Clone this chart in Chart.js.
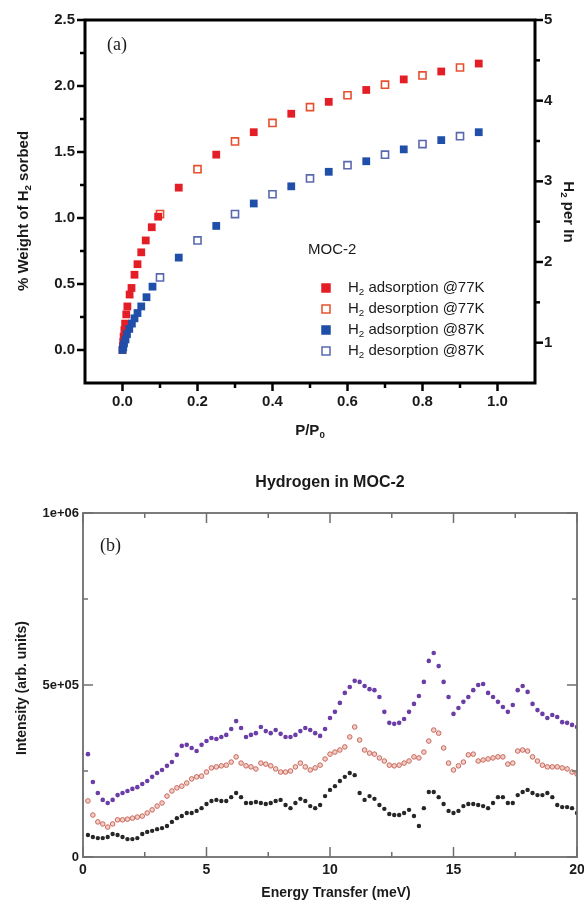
<!DOCTYPE html>
<html>
<head>
<meta charset="utf-8">
<title>Hydrogen in MOC-2</title>
<script src="https://cdn.jsdelivr.net/npm/chart.js"></script>
<style>
  body { margin: 0; background: #fff; }
  canvas { position: absolute; left: 0; }
  #iso { top: 0; }
  #ins { top: 450px; }
</style>
</head>
<body>
<canvas id="iso" width="584" height="450"></canvas>
<canvas id="ins" width="584" height="451"></canvas>
<script>
// (a) sorption isotherms, P/P0 against % weight of H2
const p77ads = [0, 0.001, 0.002, 0.003, 0.005, 0.007, 0.01, 0.013, 0.019, 0.024, 0.032, 0.04, 0.05, 0.062, 0.078, 0.095, 0.15, 0.25, 0.35, 0.45, 0.55, 0.65, 0.75, 0.85, 0.95];
const w77ads = [0, 0.03, 0.06, 0.1, 0.15, 0.2, 0.27, 0.33, 0.42, 0.47, 0.57, 0.65, 0.74, 0.83, 0.93, 1.01, 1.23, 1.48, 1.65, 1.79, 1.88, 1.97, 2.05, 2.11, 2.17];
const p77des = [0.1, 0.2, 0.3, 0.4, 0.5, 0.6, 0.7, 0.8, 0.9];
const w77des = [1.03, 1.37, 1.58, 1.72, 1.84, 1.93, 2.01, 2.08, 2.14];
const p87ads = [0, 0.002, 0.004, 0.008, 0.012, 0.018, 0.025, 0.032, 0.04, 0.05, 0.064, 0.08, 0.15, 0.25, 0.35, 0.45, 0.55, 0.65, 0.75, 0.85, 0.95];
const w87ads = [0, 0.02, 0.05, 0.08, 0.12, 0.16, 0.2, 0.24, 0.28, 0.33, 0.4, 0.48, 0.7, 0.94, 1.11, 1.24, 1.35, 1.43, 1.52, 1.59, 1.65];
const p87des = [0.1, 0.2, 0.3, 0.4, 0.5, 0.6, 0.7, 0.8, 0.9];
const w87des = [0.55, 0.83, 1.03, 1.18, 1.3, 1.4, 1.48, 1.56, 1.62];

const pTicks = [0, 0.2, 0.4, 0.6, 0.8, 1.0];
const pTickLabels = ['0.0', '0.2', '0.4', '0.6', '0.8', '1.0'];
const pMinor = [0.1, 0.3, 0.5, 0.7, 0.9];
const wTicks = [0, 0.5, 1.0, 1.5, 2.0, 2.5];
const wTickLabels = ['0.0', '0.5', '1.0', '1.5', '2.0', '2.5'];
const wMinor = [0.25, 0.75, 1.25, 1.75, 2.25];
const perInTicks = [1, 2, 3, 4, 5];
const perInTickLabels = ['1', '2', '3', '4', '5'];
const perInMinor = [1.5, 2.5, 3.5, 4.5];

// (b) inelastic spectra, energy transfer (meV) against intensity (thousands)
const energy = [0.2, 0.4, 0.6, 0.8, 1.0, 1.2, 1.4, 1.6, 1.8, 2.0,
  2.2, 2.4, 2.6, 2.8, 3.0, 3.2, 3.4, 3.6, 3.8, 4.0,
  4.2, 4.4, 4.6, 4.8, 5.0, 5.2, 5.4, 5.6, 5.8, 6.0,
  6.2, 6.4, 6.6, 6.8, 7.0, 7.2, 7.4, 7.6, 7.8, 8.0,
  8.2, 8.4, 8.6, 8.8, 9.0, 9.2, 9.4, 9.6, 9.8, 10.0,
  10.2, 10.4, 10.6, 10.8, 11.0, 11.2, 11.4, 11.6, 11.8, 12.0,
  12.2, 12.4, 12.6, 12.8, 13.0, 13.2, 13.4, 13.6, 13.8, 14.0,
  14.2, 14.4, 14.6, 14.8, 15.0, 15.2, 15.4, 15.6, 15.8, 16.0,
  16.2, 16.4, 16.6, 16.8, 17.0, 17.2, 17.4, 17.6, 17.8, 18.0,
  18.2, 18.4, 18.6, 18.8, 19.0, 19.2, 19.4, 19.6, 19.8, 20.0];
const intPurple = [299, 218, 186, 166, 157, 166, 180, 186, 192, 198,
  203, 212, 221, 233, 244, 253, 265, 276, 297, 323,
  326, 317, 308, 326, 337, 346, 343, 349, 355, 372,
  395, 375, 349, 355, 360, 378, 366, 360, 369, 358,
  349, 349, 355, 366, 375, 369, 360, 352, 372, 404,
  422, 448, 477, 494, 512, 509, 497, 488, 485, 465,
  422, 390, 387, 390, 401, 422, 445, 468, 509, 570,
  593, 555, 509, 465, 416, 433, 451, 465, 485, 500,
  503, 477, 465, 451, 436, 422, 442, 485, 497, 480,
  445, 427, 416, 404, 413, 407, 392, 390, 384, 378];
const intSalmon = [163, 122, 102, 96, 87, 96, 108, 108, 110, 113,
  116, 119, 128, 137, 148, 157, 177, 192, 201, 206,
  215, 227, 233, 235, 247, 259, 262, 265, 267, 276,
  291, 273, 265, 262, 256, 273, 270, 265, 256, 247,
  247, 250, 262, 273, 262, 253, 259, 267, 285, 299,
  305, 311, 320, 349, 378, 340, 311, 302, 299, 288,
  279, 267, 265, 267, 273, 279, 291, 288, 305, 337,
  369, 360, 317, 273, 253, 265, 276, 297, 299, 279,
  282, 285, 288, 291, 291, 270, 273, 308, 311, 308,
  291, 279, 267, 262, 262, 262, 259, 256, 247, 241];
const intBlack = [64, 58, 55, 55, 58, 67, 64, 58, 52, 52,
  55, 67, 73, 76, 81, 84, 90, 102, 113, 119,
  128, 128, 134, 142, 154, 163, 166, 163, 163, 174,
  186, 174, 157, 157, 160, 157, 154, 157, 163, 166,
  151, 142, 157, 169, 163, 148, 142, 151, 177, 195,
  206, 221, 233, 244, 238, 186, 166, 177, 169, 151,
  140, 125, 122, 122, 128, 137, 119, 90, 142, 189,
  189, 174, 154, 134, 128, 134, 148, 154, 154, 151,
  148, 142, 157, 174, 174, 157, 157, 180, 189, 195,
  186, 180, 180, 186, 174, 151, 145, 145, 142, 128];

const eTicks = [0, 5, 10, 15, 20];
const eTickLabels = ['0', '5', '10', '15', '20'];
const eMinor = [2.5, 7.5, 12.5, 17.5];
const iTicks = [0, 500, 1000];
const iTickLabels = ['0', '5e+05', '1e+06'];
const iMinor = [250, 750];

const FAM = 'Arial, "Liberation Sans", sans-serif';
Chart.defaults.font.family = FAM;

const pts = (xs, ys) => xs.map((x, i) => ({ x: x, y: ys[i] }));

// text with subscripts: segs like [['H'], ['2', 'sub'], [' per In']]
function richText(ctx, x, y, segs, size, weight, align, angle) {
  ctx.save();
  ctx.translate(x, y);
  ctx.rotate(angle || 0);
  let total = 0;
  const parts = segs.map(s => {
    const sub = s[1] === 'sub';
    const sz = sub ? size * 0.65 : size;
    ctx.font = weight + ' ' + sz + 'px ' + FAM;
    const w = ctx.measureText(s[0]).width;
    total += w;
    return { t: s[0], sz: sz, w: w, dy: sub ? size * 0.32 : 0 };
  });
  let cx = align === 'center' ? -total / 2 : 0;
  ctx.textBaseline = 'middle';
  ctx.textAlign = 'left';
  ctx.fillStyle = '#1a1a1a';
  parts.forEach(p => {
    ctx.font = weight + ' ' + p.sz + 'px ' + FAM;
    ctx.fillText(p.t, cx, p.dy);
    cx += p.w;
  });
  ctx.restore();
}

function line(ctx, x1, y1, x2, y2) {
  ctx.beginPath();
  ctx.moveTo(x1, y1);
  ctx.lineTo(x2, y2);
  ctx.stroke();
}

const legendRows = [
  { text: ' adsorption @77K', fill: '#e41e26', stroke: '#e41e26' },
  { text: ' desorption @77K', fill: '#fff', stroke: '#e6502e' },
  { text: ' adsorption @87K', fill: '#1f4fa8', stroke: '#1f4fa8' },
  { text: ' desorption @87K', fill: '#fff', stroke: '#5a68b0' }
];

const isoDecor = {
  id: 'isoDecor',
  afterDraw(chart) {
    const { ctx, chartArea: a, scales } = chart;
    ctx.save();
    ctx.strokeStyle = '#000';
    ctx.lineWidth = 2.5;
    pTicks.forEach(v => { const x = scales.x.getPixelForValue(v); line(ctx, x, a.bottom, x, a.bottom + 8); });
    pMinor.forEach(v => { const x = scales.x.getPixelForValue(v); line(ctx, x, a.bottom, x, a.bottom + 5); });
    wTicks.forEach(v => { const y = scales.y.getPixelForValue(v); line(ctx, a.left, y, a.left - 8, y); });
    wMinor.forEach(v => { const y = scales.y.getPixelForValue(v); line(ctx, a.left, y, a.left - 5, y); });
    perInTicks.forEach(v => { const y = scales.y1.getPixelForValue(v); line(ctx, a.right, y, a.right + 8, y); });
    perInMinor.forEach(v => { const y = scales.y1.getPixelForValue(v); line(ctx, a.right, y, a.right + 5, y); });
    ctx.lineWidth = 3;
    ctx.strokeRect(a.left, a.top, a.right - a.left, a.bottom - a.top);

    richText(ctx, 24, 211, [['% Weight of H'], ['2', 'sub'], [' sorbed']], 15, 'bold', 'center', -Math.PI / 2);
    richText(ctx, 568, 212, [['H'], ['2', 'sub'], [' per In']], 15, 'bold', 'center', Math.PI / 2);
    richText(ctx, 310, 431, [['P/P'], ['0', 'sub']], 15, 'bold', 'center', 0);
    richText(ctx, 308, 250, [['MOC-2']], 15, 'normal', 'left', 0);

    legendRows.forEach((r, i) => {
      const y = 288 + i * 21;
      ctx.fillStyle = r.fill;
      ctx.strokeStyle = r.stroke;
      ctx.lineWidth = 1.5;
      ctx.fillRect(322, y - 4, 8, 8);
      ctx.strokeRect(322, y - 4, 8, 8);
      richText(ctx, 348, y, [['H'], ['2', 'sub'], [r.text]], 15, 'normal', 'left', 0);
    });

    ctx.fillStyle = '#1a1a1a';
    ctx.font = '18px "Liberation Serif", "Times New Roman", serif';
    ctx.textBaseline = 'middle';
    ctx.textAlign = 'left';
    ctx.fillText('(a)', 107, 45);
    ctx.restore();
  }
};

const insDecor = {
  id: 'insDecor',
  afterDraw(chart) {
    const { ctx, chartArea: a, scales } = chart;
    ctx.save();
    ctx.strokeStyle = '#6e6e6e';
    ctx.lineWidth = 1.5;
    eTicks.forEach(v => {
      const x = scales.x.getPixelForValue(v);
      line(ctx, x, a.bottom, x, a.bottom - 10);
      line(ctx, x, a.top, x, a.top + 10);
    });
    eMinor.forEach(v => {
      const x = scales.x.getPixelForValue(v);
      line(ctx, x, a.bottom, x, a.bottom - 5);
      line(ctx, x, a.top, x, a.top + 5);
    });
    iTicks.forEach(v => {
      const y = scales.y.getPixelForValue(v);
      line(ctx, a.left, y, a.left + 10, y);
      line(ctx, a.right, y, a.right - 10, y);
    });
    iMinor.forEach(v => {
      const y = scales.y.getPixelForValue(v);
      line(ctx, a.left, y, a.left + 5, y);
      line(ctx, a.right, y, a.right - 5, y);
    });
    ctx.lineWidth = 1.8;
    ctx.strokeRect(a.left, a.top, a.right - a.left, a.bottom - a.top);

    // energy tick labels, centred on their ticks (the last one runs off the edge)
    eTicks.forEach((v, i) => {
      richText(ctx, scales.x.getPixelForValue(v), a.bottom + 13, [[eTickLabels[i]]], 14, 'bold', 'center', 0);
    });

    const cx = (a.left + a.right) / 2;
    richText(ctx, cx, 33, [['Hydrogen in MOC-2']], 16, 'bold', 'center', 0);
    richText(ctx, 336, 443, [['Energy Transfer (meV)']], 14, 'bold', 'center', 0);
    richText(ctx, 22, 238, [['Intensity (arb. units)']], 14, 'bold', 'center', -Math.PI / 2);

    ctx.fillStyle = '#1a1a1a';
    ctx.font = '18px "Liberation Serif", "Times New Roman", serif';
    ctx.textBaseline = 'middle';
    ctx.textAlign = 'left';
    ctx.fillText('(b)', 100, 96);
    ctx.restore();
  }
};

const tickFont = { size: 15, weight: 'bold' };
const noGrid = { display: false, drawTicks: false };

new Chart(document.getElementById('iso'), {
  type: 'scatter',
  data: {
    datasets: [
      { data: pts(p87ads, w87ads), pointStyle: 'rect', pointRadius: 5.5, backgroundColor: '#1f4fa8', borderColor: '#1f4fa8', borderWidth: 0 },
      { data: pts(p87des, w87des), pointStyle: 'rect', pointRadius: 5, backgroundColor: '#fff', borderColor: '#5a68b0', borderWidth: 1.6 },
      { data: pts(p77ads, w77ads), pointStyle: 'rect', pointRadius: 5.5, backgroundColor: '#e41e26', borderColor: '#e41e26', borderWidth: 0 },
      { data: pts(p77des, w77des), pointStyle: 'rect', pointRadius: 5, backgroundColor: '#fff', borderColor: '#e6502e', borderWidth: 1.6 }
    ]
  },
  options: {
    responsive: false,
    animation: false,
    layout: { padding: { top: 20, left: 0, right: 0, bottom: 0 } },
    plugins: { legend: { display: false }, tooltip: { enabled: false } },
    scales: {
      x: {
        type: 'linear', position: 'bottom', min: -0.1, max: 1.1,
        grid: noGrid, border: { display: false },
        afterBuildTicks: s => { s.ticks = pTicks.map(v => ({ value: v })); },
        afterFit: s => { s.height = 67; },
        ticks: { callback: (v, i) => pTickLabels[i], padding: 10, color: '#1a1a1a', font: tickFont, maxRotation: 0, autoSkip: false }
      },
      y: {
        type: 'linear', position: 'left', min: -0.25, max: 2.5,
        grid: noGrid, border: { display: false },
        afterBuildTicks: s => { s.ticks = wTicks.map(v => ({ value: v })); },
        afterFit: s => { s.width = 85; },
        ticks: { callback: (v, i) => wTickLabels[i], padding: 10, color: '#1a1a1a', font: tickFont, autoSkip: false }
      },
      y1: {
        type: 'linear', position: 'right', min: 0.5, max: 5,
        grid: noGrid, border: { display: false },
        afterBuildTicks: s => { s.ticks = perInTicks.map(v => ({ value: v })); },
        afterFit: s => { s.width = 49; },
        ticks: { callback: (v, i) => perInTickLabels[i], padding: 9, color: '#1a1a1a', font: tickFont, autoSkip: false }
      }
    }
  },
  plugins: [isoDecor]
});

new Chart(document.getElementById('ins'), {
  type: 'scatter',
  data: {
    datasets: [
      { data: pts(energy, intBlack), pointStyle: 'circle', pointRadius: 2.2, backgroundColor: '#262626', borderColor: '#262626', borderWidth: 0 },
      { data: pts(energy, intSalmon), pointStyle: 'circle', pointRadius: 2.3, backgroundColor: '#f2cdc6', borderColor: '#c8685c', borderWidth: 1 },
      { data: pts(energy, intPurple), pointStyle: 'circle', pointRadius: 2.3, backgroundColor: '#6a3ea6', borderColor: '#6a3ea6', borderWidth: 0 }
    ]
  },
  options: {
    responsive: false,
    animation: false,
    layout: { padding: { top: 63, left: 0, right: 7, bottom: 0 } },
    plugins: { legend: { display: false }, tooltip: { enabled: false } },
    scales: {
      x: {
        type: 'linear', position: 'bottom', min: 0, max: 20,
        grid: noGrid, border: { display: false },
        afterFit: s => { s.height = 44; },
        ticks: { display: false }
      },
      y: {
        type: 'linear', position: 'left', min: 0, max: 1000,
        grid: noGrid, border: { display: false },
        afterBuildTicks: s => { s.ticks = iTicks.map(v => ({ value: v })); },
        afterFit: s => { s.width = 83; },
        ticks: { callback: (v, i) => iTickLabels[i], padding: 4, color: '#1a1a1a', font: { size: 13, weight: 'bold' }, autoSkip: false }
      }
    }
  },
  plugins: [insDecor]
});
</script>
</body>
</html>
